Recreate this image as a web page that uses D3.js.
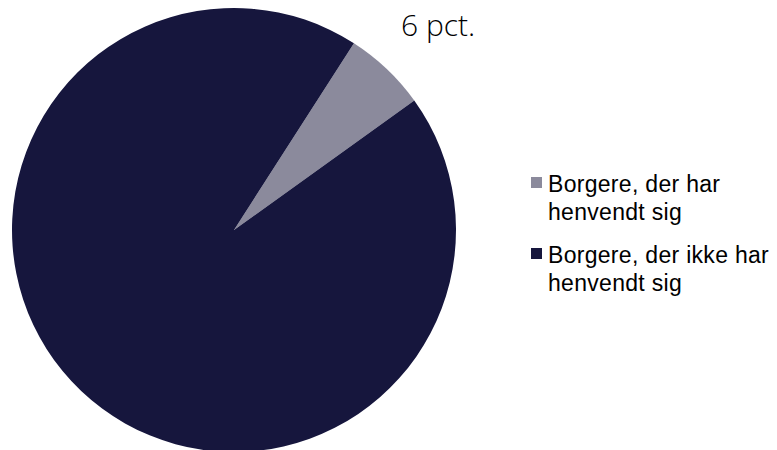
<!DOCTYPE html>
<html>
<head>
<meta charset="utf-8">
<script src="https://cdn.jsdelivr.net/npm/d3@7"></script>
<style>
	body{margin:0;background:#fff;}
	.legend text{font-family:"Liberation Sans",Arial,sans-serif;font-size:23px;letter-spacing:0.3px;fill:#000;}
	.pct{font-family:"Open Sans",sans-serif;font-weight:300;font-size:30px;fill:#000;}
</style>
</head>
<body>
<div id="chart"></div>
<script>
var categories = ['Borgere, der har henvendt sig','Borgere, der ikke har henvendt sig'];
var values = [6,94];
var labels = ['6 pct.',''];
var legendLines = [['Borgere, der har','henvendt sig'],['Borgere, der ikke har','henvendt sig']];
var colors = ['#8b8a9c','#16163d'];

var w = 777, h = 450;
var svg = d3.select('#chart')
	.append('svg')
	.attr('width',w)
	.attr('height',h);

var cx = 234, cy = 230, r = 222;

var pie = d3.pie()
	.sort(null)
	.startAngle(32.7*Math.PI/180)
	.endAngle(32.7*Math.PI/180+2*Math.PI)
	.value(function(d){return d;});
var arc = d3.arc().innerRadius(0).outerRadius(r);

var g = svg.append('g').attr('transform','translate('+cx+','+cy+')');
g.selectAll('.slice')
	.data(pie(values)).enter()
	.append('path')
		.attr('class','slice')
		.attr('fill',function(d,i){return colors[i];})
		.attr('d',arc);

// percentage label outside the small slice
g.selectAll('.pct')
	.data(pie(values).filter(function(d,i){return labels[i];})).enter()
	.append('text')
		.attr('class','pct')
		.attr('x',167)
		.attr('y',-194)
		.text(function(d){return labels[d.index];});

var legend = svg.append('g').attr('class','legend');
var items = legend.selectAll('.item')
	.data(categories).enter()
	.append('g')
		.attr('class','item')
		.attr('transform',function(d,i){return 'translate(531,'+(177+i*71)+')';});
items.append('rect')
	.attr('width',11)
	.attr('height',11)
	.attr('fill',function(d,i){return colors[i];});
items.append('text')
	.attr('x',17)
	.attr('y',15)
	.selectAll('tspan')
	.data(function(d,i){return legendLines[i];}).enter()
	.append('tspan')
		.attr('x',17)
		.attr('dy',function(d,j){return j==0?0:27.5;})
		.text(function(d){return d;});
</script>
</body>
</html>
